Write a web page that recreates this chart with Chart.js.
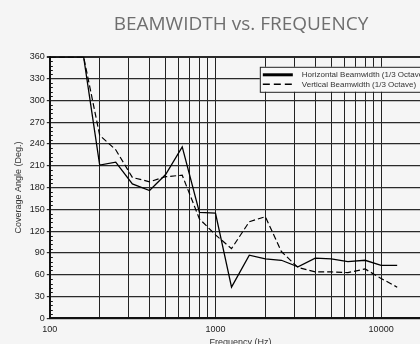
<!DOCTYPE html>
<html>
<head>
<meta charset="utf-8">
<title>Beamwidth vs. Frequency</title>
<script src="https://cdn.jsdelivr.net/npm/chart.js@4.4.1/dist/chart.umd.min.js"></script>
<style>
  html, body { margin: 0; padding: 0; background: #f5f5f5; overflow: hidden; }
  #wrap { width: 420px; height: 344px; overflow: hidden; }
  #box { width: 482px; height: 350px; }
</style>
</head>
<body>
<div id="wrap"><div id="box"><canvas id="beamChart"></canvas></div></div>
<script>
// 1/3 octave band centres (Hz)
const frequencies = [100, 125, 160, 200, 250, 315, 400, 500, 630, 800, 1000, 1250,
                     1600, 2000, 2500, 3150, 4000, 5000, 6300, 8000, 10000, 12500];

// coverage angle in degrees for each band
const horizontalBeamwidth = [360, 360, 360, 211, 215, 185, 176, 198, 236, 146, 145, 43,
                             87, 82, 80, 71, 83, 82, 78, 80, 73, 73];
const verticalBeamwidth = [360, 360, 360, 252, 232, 194, 188, 195, 197, 137, 115, 96,
                           133, 140, 92, 70, 64, 64, 63, 68, 55, 43];

// axis grid
const angleTicks = [0, 30, 60, 90, 120, 150, 180, 210, 240, 270, 300, 330, 360];
const freqGrid = [100, 200, 300, 400, 500, 600, 700, 800, 900,
                  1000, 2000, 3000, 4000, 5000, 6000, 7000, 8000, 9000,
                  10000, 20000];
const freqLabels = [100, 1000, 10000];

const MINOR_STEP = 6;

// small inward ticks on the angle axis + boxed legend inside the plot
const frameAndLegend = {
    id: 'frameAndLegend',
    afterDatasetsDraw(chart) {
        const { ctx, chartArea, scales } = chart;
        ctx.save();

        ctx.strokeStyle = '#111';
        ctx.lineWidth = 1;
        for (let v = MINOR_STEP; v < 360; v += MINOR_STEP) {
            if (angleTicks.includes(v)) continue;
            const y = Math.round(scales.y.getPixelForValue(v)) + 0.5;
            ctx.beginPath();
            ctx.moveTo(chartArea.left, y);
            ctx.lineTo(chartArea.left + 3, y);
            ctx.stroke();
        }

        // legend
        const bx = chartArea.left + 210;
        const by = chartArea.top + 10;
        const bw = 200;
        const bh = 25;
        ctx.fillStyle = '#f8f8f8';
        ctx.fillRect(bx, by, bw, bh);
        ctx.strokeStyle = '#222';
        ctx.lineWidth = 1;
        ctx.strokeRect(bx + 0.5, by + 0.5, bw, bh);

        ctx.font = '8px "Liberation Sans", Arial, sans-serif';
        ctx.textBaseline = 'middle';
        ctx.fillStyle = '#333';
        chart.data.datasets.forEach((ds, i) => {
            const y = by + 8 + i * 9.5;
            ctx.beginPath();
            ctx.strokeStyle = '#000';
            ctx.lineWidth = i === 0 ? 3 : 1.5;
            ctx.setLineDash(i === 0 ? [] : [7, 4]);
            ctx.moveTo(bx + 3, y);
            ctx.lineTo(bx + 33, y);
            ctx.stroke();
            ctx.setLineDash([]);
            ctx.fillText(ds.label, bx + 42, y);
        });

        ctx.restore();
    }
};

const axisFont = { family: '"Liberation Sans", Arial, sans-serif', size: 9 };

new Chart(document.getElementById('beamChart'), {
    type: 'line',
    data: {
        datasets: [{
            label: 'Horizontal Beamwidth (1/3 Octave)',
            data: frequencies.map((f, i) => ({ x: f, y: horizontalBeamwidth[i] })),
            borderColor: '#000',
            borderWidth: 1.3,
            pointRadius: 0,
            tension: 0
        }, {
            label: 'Vertical Beamwidth (1/3 Octave)',
            data: frequencies.map((f, i) => ({ x: f, y: verticalBeamwidth[i] })),
            borderColor: '#000',
            borderWidth: 1.2,
            borderDash: [6, 3],
            pointRadius: 0,
            tension: 0
        }]
    },
    options: {
        responsive: true,
        maintainAspectRatio: false,
        devicePixelRatio: 1,
        animation: false,
        layout: { padding: { left: 0, right: 0, top: 0, bottom: 2 } },
        plugins: {
            legend: { display: false },
            tooltip: { enabled: false },
            title: {
                display: true,
                text: 'BEAMWIDTH vs. FREQUENCY',
                color: '#6e6e6e',
                font: { family: '"Open Sans", sans-serif', size: 19, weight: 'normal' },
                padding: { top: 13, bottom: 21 }
            }
        },
        scales: {
            x: {
                type: 'logarithmic',
                min: 100,
                max: 20000,
                afterBuildTicks: (scale) => {
                    scale.ticks = freqGrid.map(v => ({ value: v }));
                },
                ticks: {
                    autoSkip: false,
                    maxRotation: 0,
                    color: '#222',
                    font: axisFont,
                    padding: 6,
                    callback: (value) => freqLabels.includes(value) ? String(value) : ''
                },
                grid: { color: '#222', lineWidth: 1, drawTicks: false },
                border: { display: true, color: '#111', width: 2 },
                title: {
                    display: true,
                    text: 'Frequency (Hz)',
                    color: '#333',
                    font: axisFont,
                    padding: { top: -4, bottom: 0 }
                }
            },
            y: {
                min: 0,
                max: 360,
                afterBuildTicks: (scale) => {
                    scale.ticks = angleTicks.map(v => ({ value: v }));
                },
                ticks: { color: '#222', font: axisFont, padding: 2 },
                grid: {
                    color: '#2a2a2a',
                    lineWidth: (c) => c.tick && c.tick.value === 360 ? 2 : 1.2,
                    tickLength: 3
                },
                border: { display: true, color: '#111', width: 2 },
                title: {
                    display: true,
                    text: 'Coverage Angle (Deg.)',
                    color: '#333',
                    font: axisFont,
                    padding: { top: 13, bottom: 4 }
                }
            },
            // empty strip on the right so the plot runs up to 20 kHz
            yRight: {
                position: 'right',
                min: 0,
                max: 360,
                ticks: { display: false },
                grid: { display: false, drawTicks: false },
                border: { display: false },
                afterFit: (scale) => { scale.width = 51; }
            }
        }
    },
    plugins: [frameAndLegend]
});
</script>
</body>
</html>
